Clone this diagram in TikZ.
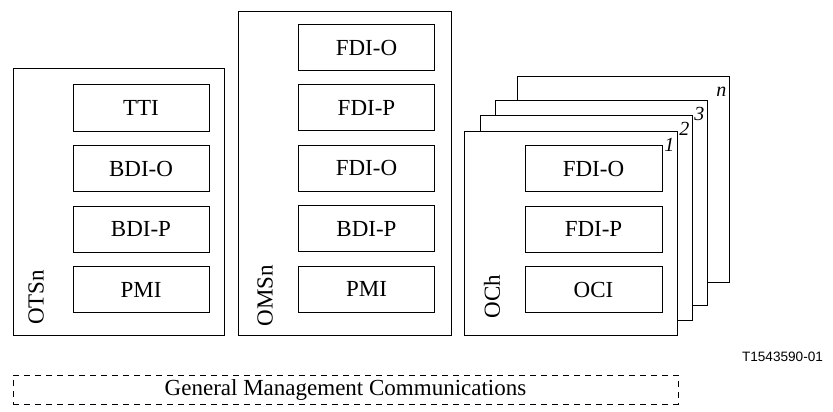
\documentclass[tikz,border=0pt]{standalone}
\usepackage{fontspec}
\usetikzlibrary{calc}
\setmainfont{Liberation Serif}
\newfontfamily\labelsans{Liberation Sans}
\begin{document}
\begin{tikzpicture}[x=1pt,y=-1pt,
  frame/.style={draw=black,line width=1pt,fill=white,rectangle,inner sep=0pt},
  inbox/.style={draw=black,line width=1pt,fill=white,rectangle,inner sep=0pt,
    minimum width=136pt,minimum height=46pt,font=\fontsize{23}{26}\selectfont},
  vlabel/.style={rotate=90,inner sep=0pt,font=\fontsize{23}{26}\selectfont},
  numlab/.style={inner sep=0pt,anchor=north east,font=\fontsize{20}{22}\selectfont\itshape},
  gmc/.style={draw=black,line width=0.9pt,dash pattern=on 6pt off 5pt,rectangle,inner sep=0pt,
    minimum width=665pt,minimum height=29pt,font=\fontsize{23}{26}\selectfont}
]
\useasboundingbox (0,0) rectangle (833,412);

% OTSn
\node[frame,minimum width=211pt,minimum height=266pt] (ots) at (118.5,202) {};
\node[inbox] (ots1) at (141,108) {TTI};
\node[inbox] (ots2) at (141,168.5) {BDI-O};
\node[inbox] (ots3) at (141,229) {BDI-P};
\node[inbox] (ots4) at (141,289.5) {PMI};
\node[vlabel] (otsl) at (36,297.5) {OTSn};

% OMSn
\node[frame,minimum width=213pt,minimum height=323pt] (oms) at (344.5,173.5) {};
\node[inbox] (oms1) at (366.5,47.5) {FDI-O};
\node[inbox] (oms2) at (366.5,107.9) {FDI-P};
\node[inbox] (oms3) at (366.5,168.3) {FDI-O};
\node[inbox] (oms4) at (366.5,228.7) {BDI-P};
\node[inbox] (oms5) at (366.5,289.1) {PMI};
\node[vlabel] (omsl) at (265,295.5) {OMSn};

% OCh stack
\node[frame,minimum width=212pt,minimum height=205pt] (pn) at (623,179.5) {};
\node[numlab] (ln) at ($(pn.north east)+(-3,10)$) {n};
\node[frame,minimum width=212pt,minimum height=205pt] (p3) at (601,202.5) {};
\node[numlab] (l3) at ($(p3.north east)+(-3,8)$) {3};
\node[frame,minimum width=212pt,minimum height=205pt] (p2) at (586,217.5) {};
\node[numlab] (l2) at ($(p2.north east)+(-3,8)$) {2};
\node[frame,minimum width=213pt,minimum height=204pt] (p1) at (570.5,233) {};
\node[numlab] (l1) at ($(p1.north east)+(-3,8)$) {1};
\node[inbox,minimum width=137pt] (och1) at (593.5,168.5) {FDI-O};
\node[inbox,minimum width=137pt] (och2) at (593.5,229) {FDI-P};
\node[inbox,minimum width=137pt] (och3) at (593.5,289.5) {OCI};
\node[vlabel] (ochl) at (492,296.5) {OCh};

% figure id
\node[inner sep=0pt,font=\labelsans\fontsize{13.6}{16}\selectfont] (fid) at (782.5,357) {T1543590-01};

% General management
\node[gmc] (gm) at (345.5,389.5) {General Management Communications};
\end{tikzpicture}
\end{document}
